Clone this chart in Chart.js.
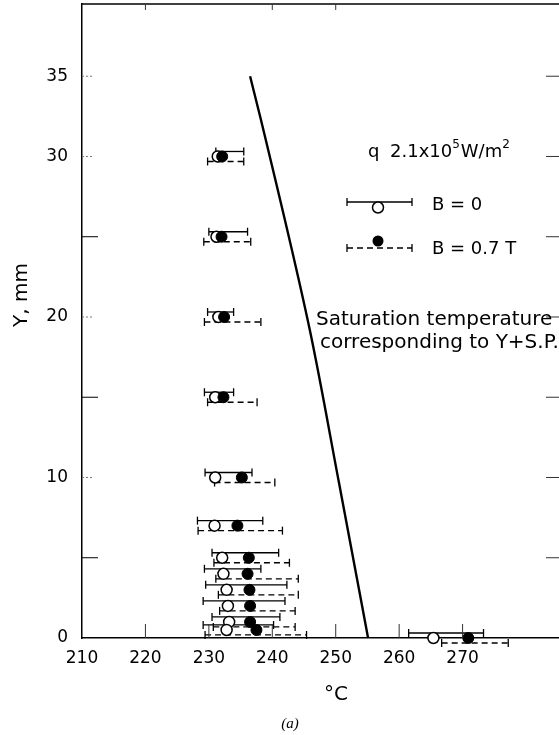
<!DOCTYPE html>
<html><head><meta charset="utf-8">
<script src="https://cdn.jsdelivr.net/npm/chart.js@4/dist/chart.umd.min.js"></script>
<style>html,body{margin:0;padding:0;background:#fff;overflow:hidden}canvas{display:block}</style>
</head><body>
<canvas id="c" width="559" height="735"></canvas>
<script>
// ---- data ----
const yRows    = [30, 25, 20, 15, 10, 7, 5, 4, 3, 2, 1, 0.5, 0];
// B = 0 (open circles, solid error bars)
const openT    = [231.4, 231.2, 231.5, 231.0, 231.0, 230.9, 232.1, 232.3, 232.8, 233.0, 233.2, 232.8, 265.4];
const openLo   = [231.1, 230.0, 229.8, 229.3, 229.4, 228.2, 230.5, 229.3, 229.5, 229.1, 230.5, 229.1, 261.5];
const openHi   = [235.5, 236.1, 233.9, 233.9, 236.8, 238.5, 241.0, 238.2, 242.3, 242.0, 241.2, 240.2, 273.3];
// B = 0.7 T (filled circles, dashed error bars)
const filledT  = [232.1, 232.0, 232.4, 232.3, 235.2, 234.5, 236.3, 236.1, 236.4, 236.5, 236.5, 237.5, 270.9];
const filledLo = [229.8, 229.2, 229.3, 229.8, 230.9, 228.3, 230.8, 231.1, 231.5, 231.7, 230.7, 229.4, 266.7];
const filledHi = [235.5, 236.6, 238.2, 237.6, 240.4, 241.6, 242.7, 244.1, 244.1, 243.6, 243.6, 245.4, 277.2];
// saturation temperature line
const satY     = [35, 32.3, 19.4, 9.7, 1.7, 0];
const satT     = [236.5, 238.2, 245.8, 250.5, 254.3, 255.1];
// tick labels
const xTickLabels = [210, 220, 230, 240, 250, 260, 270];
const yTickLabels = [0, 10, 20, 30, 35];
const yMinorTicks = [5, 15, 25];

const FONT = '"DejaVu Sans", sans-serif';

const openPts   = yRows.map((y, i) => ({x: openT[i], y}));
const filledPts = yRows.map((y, i) => ({x: filledT[i], y}));
const satPts    = satY.map((y, i) => ({x: satT[i], y}));

function seg(ctx, x1, y1, x2, y2) { ctx.beginPath(); ctx.moveTo(x1, y1); ctx.lineTo(x2, y2); ctx.stroke(); }

const errorBars = {
  id: 'errorBars',
  beforeDatasetsDraw(chart) {
    const ctx = chart.ctx, xs = chart.scales.x, ys = chart.scales.y;
    ctx.save();
    ctx.strokeStyle = '#000'; ctx.lineWidth = 1.3;
    const bar = (lo, hi, yv, off, dash) => {
      const x1 = xs.getPixelForValue(lo), x2 = xs.getPixelForValue(hi), y = ys.getPixelForValue(yv) + off;
      ctx.setLineDash(dash); seg(ctx, x1, y, x2, y);
      ctx.setLineDash([]); seg(ctx, x1, y - 4, x1, y + 4); seg(ctx, x2, y - 4, x2, y + 4);
    };
    yRows.forEach((y, i) => {
      bar(openLo[i], openHi[i], y, -5, []);
      bar(filledLo[i], filledHi[i], y, 5, [6, 4]);
    });
    ctx.restore();
  }
};

const annot = {
  id: 'annot',
  afterDraw(chart) {
    const ctx = chart.ctx, a = chart.chartArea, xs = chart.scales.x, ys = chart.scales.y;
    ctx.save();
    ctx.strokeStyle = '#000';
    // top frame line
    ctx.lineWidth = 1.5; seg(ctx, a.left, a.top, a.right, a.top);
    // inward ticks
    ctx.lineWidth = 1;
    yMinorTicks.forEach(v => { const y = ys.getPixelForValue(v); seg(ctx, a.left, y, a.left + 16, y); });
    ctx.strokeStyle = '#777'; ctx.setLineDash([2, 2]);
    yTickLabels.filter(v => v > 0).forEach(v => { const y = ys.getPixelForValue(v); seg(ctx, a.left, y, a.left + 10, y); });
    ctx.setLineDash([]); ctx.strokeStyle = '#333';
    [5, 10, 15, 20, 25, 30, 35].forEach(v => { const y = ys.getPixelForValue(v); seg(ctx, a.right - 13, y, a.right, y); });
    xTickLabels.filter(v => v > 210).forEach(v => { const x = xs.getPixelForValue(v); seg(ctx, x, a.bottom, x, a.bottom - 14); });
    [220, 240, 250].forEach(v => { const x = xs.getPixelForValue(v); seg(ctx, x, a.top, x, a.top + 6); });
    ctx.strokeStyle = '#000';

    ctx.fillStyle = '#000';
    ctx.textBaseline = 'alphabetic'; ctx.textAlign = 'left';
    // header
    ctx.font = '18px ' + FONT;
    ctx.fillText('q', 368, 157);
    let x = 390;
    ctx.fillText('2.1x10', x, 157); x += ctx.measureText('2.1x10').width;
    ctx.font = '12px ' + FONT; ctx.fillText('5', x, 148); x += ctx.measureText('5').width + 1;
    ctx.font = '18px ' + FONT; ctx.fillText('W/m', x, 157); x += ctx.measureText('W/m').width;
    ctx.font = '12px ' + FONT; ctx.fillText('2', x, 148);
    // legend samples
    ctx.lineWidth = 1.3;
    seg(ctx, 347, 202, 412, 202); seg(ctx, 347, 198, 347, 206); seg(ctx, 412, 198, 412, 206);
    ctx.setLineDash([6, 4]); seg(ctx, 347, 248, 412, 248); ctx.setLineDash([]);
    seg(ctx, 347, 244, 347, 252); seg(ctx, 412, 244, 412, 252);
    ctx.beginPath(); ctx.arc(378, 207.5, 5.5, 0, Math.PI * 2); ctx.fillStyle = '#fff'; ctx.fill(); ctx.lineWidth = 1.5; ctx.stroke();
    ctx.beginPath(); ctx.arc(378, 241, 5.5, 0, Math.PI * 2); ctx.fillStyle = '#000'; ctx.fill();
    ctx.font = '18px ' + FONT;
    ctx.fillText('B = 0', 432, 210);
    ctx.fillText('B = 0.7 T', 432, 254);
    // saturation label
    ctx.font = '20px ' + FONT;
    ctx.fillText('Saturation temperature', 316, 325);
    ctx.fillText('corresponding to Y+S.P.', 320, 348);
    // axis titles
    ctx.textAlign = 'center'; ctx.textBaseline = 'middle';
    ctx.font = '20px ' + FONT;
    ctx.fillText('°C', 336, 695);
    ctx.save(); ctx.translate(22, 295); ctx.rotate(-Math.PI / 2); ctx.fillText('Y, mm', 0, 0); ctx.restore();
    ctx.font = 'italic 15px "Liberation Serif", serif';
    ctx.fillText('(a)', 290, 724);
    ctx.restore();
  }
};

new Chart(document.getElementById('c'), {
  type: 'scatter',
  data: {
    datasets: [
      { label: 'B = 0.7 T', data: filledPts, order: 0, clip: false,
        pointRadius: 5.5, pointBackgroundColor: '#000', pointBorderColor: '#000', pointBorderWidth: 1 },
      { label: 'B = 0', data: openPts, order: 1, clip: false,
        pointRadius: 5.5, pointBackgroundColor: '#fff', pointBorderColor: '#000', pointBorderWidth: 1.5 },
      { label: 'Saturation', data: satPts, order: 2, type: 'line', showLine: true, clip: false,
        borderColor: '#000', borderWidth: 2.4, pointRadius: 0, fill: false,
        cubicInterpolationMode: 'monotone', indexAxis: 'y' }
    ]
  },
  options: {
    responsive: false, animation: false, devicePixelRatio: 1,
    layout: { autoPadding: false, padding: { top: 4, right: 0, left: 0, bottom: 0 } },
    plugins: { legend: { display: false }, tooltip: { enabled: false } },
    scales: {
      x: {
        type: 'linear', min: 210, max: 285.2, position: 'bottom',
        grid: { display: false, drawTicks: false },
        border: { display: true, color: '#000', width: 1.5 },
        afterBuildTicks: s => { s.ticks = xTickLabels.map(v => ({value: v})); },
        afterFit: s => { s.height = 97; s.paddingLeft = 0; s.paddingRight = 0; },
        ticks: { color: '#000', font: { family: FONT, size: 17 }, padding: 10, maxRotation: 0 }
      },
      y: {
        type: 'linear', min: 0, max: 39.5,
        grid: { display: false, drawTicks: false },
        border: { display: true, color: '#000', width: 1.5 },
        afterBuildTicks: s => { s.ticks = yTickLabels.map(v => ({value: v})); },
        afterFit: s => { s.width = 82; s.paddingTop = 0; s.paddingBottom = 0; },
        ticks: { color: '#000', font: { family: FONT, size: 17 }, padding: 14 }
      }
    }
  },
  plugins: [errorBars, annot]
});
</script>
</body></html>
